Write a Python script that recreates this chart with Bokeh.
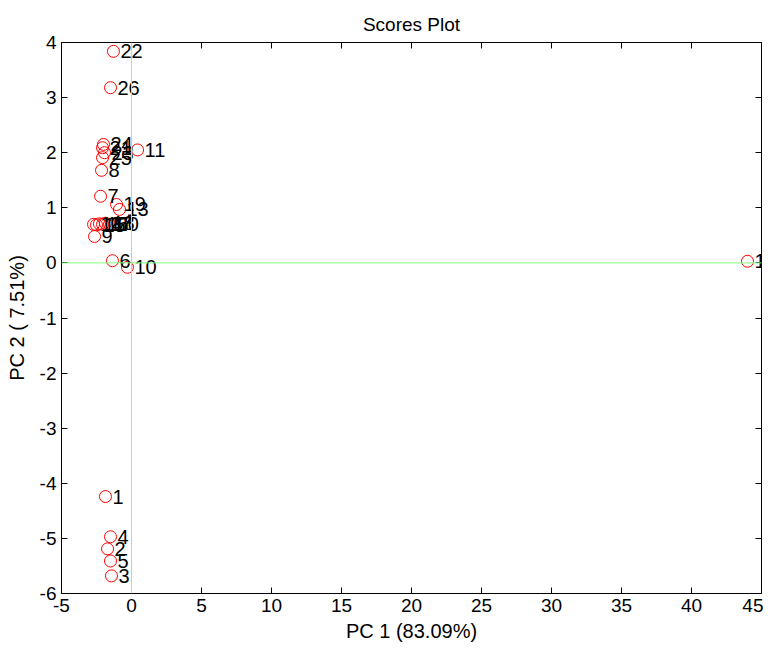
from bokeh.plotting import figure
from bokeh.models import ColumnDataSource, Span, LinearAxis, FixedTicker, Range1d
from bokeh.core.properties import value
from bokeh.embed import file_html
from bokeh.resources import INLINE

sample_ids = [str(i) for i in range(1, 27)]
pc1 = [-1.86, -1.71, -1.43, -1.50, -1.50, -1.36, -2.21, -2.14, -2.64, -0.29,
       0.43, 44.0, -0.86, -2.71, -2.50, -2.29, -2.07, -1.86, -1.07, -1.57,
       -2.07, -1.29, -1.93, -2.00, -2.07, -1.50]
pc2 = [-4.24, -5.19, -5.68, -4.97, -5.41, 0.04, 1.21, 1.68, 0.48, -0.08,
       2.05, 0.03, 0.97, 0.70, 0.69, 0.71, 0.70, 0.72, 1.06, 0.70,
       2.09, 3.84, 2.00, 2.15, 1.91, 3.18]
x_ticks = [-5, 0, 5, 10, 15, 20, 25, 30, 35, 40, 45]
y_ticks = [-6, -5, -4, -3, -2, -1, 0, 1, 2, 3, 4]

FONT = "Liberation Sans"
src = ColumnDataSource(dict(x=pc1, y=pc2, lab=sample_ids))

p = figure(frame_width=700, frame_height=551, output_backend="svg", toolbar_location=None,
           x_range=Range1d(-5, 45), y_range=Range1d(-6, 4),
           min_border_left=61, min_border_right=2, min_border_top=42, min_border_bottom=44,
           title="Scores Plot")
p.title.align = "center"
p.title.text_font = FONT
p.title.text_font_size = "19px"
p.title.text_font_style = "normal"
p.title.text_color = "black"
p.title.standoff = 16

p.grid.visible = False
p.outline_line_color = "black"
p.outline_line_width = 1
p.background_fill_color = "white"
p.border_fill_color = "white"

for ax, ticks in ((p.xaxis[0], x_ticks), (p.yaxis[0], y_ticks)):
    ax.ticker = FixedTicker(ticks=ticks)
    ax.major_label_overrides = {t: str(t) for t in ticks}
    ax.major_tick_in = 6
    ax.major_tick_out = 0
    ax.minor_tick_line_color = None
    ax.axis_line_color = "black"
    ax.major_label_text_font = FONT
    ax.major_label_text_font_size = "19px"
    ax.major_label_text_color = "black"
    ax.axis_label_text_font = FONT
    ax.axis_label_text_font_size = "20px"
    ax.axis_label_text_font_style = "normal"
    ax.axis_label_text_color = "black"
    ax.major_label_standoff = 5

p.xaxis[0].axis_label = "PC 1 (83.09%)"
p.yaxis[0].axis_label = "PC 2 ( 7.51%)"
p.xaxis[0].axis_label_standoff = 5
p.yaxis[0].axis_label_standoff = 9

for loc, ticks in (("above", x_ticks), ("right", y_ticks)):
    ax = LinearAxis(ticker=FixedTicker(ticks=ticks), major_tick_in=6, major_tick_out=0,
                    minor_tick_line_color=None, major_label_overrides={t: "" for t in ticks},
                    major_label_text_font_size="1px",
                    major_label_standoff=0, axis_line_color="black")
    p.add_layout(ax, loc)

p.add_layout(Span(location=0, dimension="height", line_color="#7fff7f", line_width=1))
p.add_layout(Span(location=0, dimension="width", line_color="#7fff7f", line_width=1))

p.scatter("x", "y", source=src, marker="circle", size=12, fill_color=None,
          line_color="red", line_width=1)
p.text("x", "y", text="lab", source=src, x_offset=7, text_baseline="middle",
       text_align="left", text_font=value(FONT), text_font_size="20px", text_color="black")

open("out.html", "w").write(file_html(p, INLINE))
